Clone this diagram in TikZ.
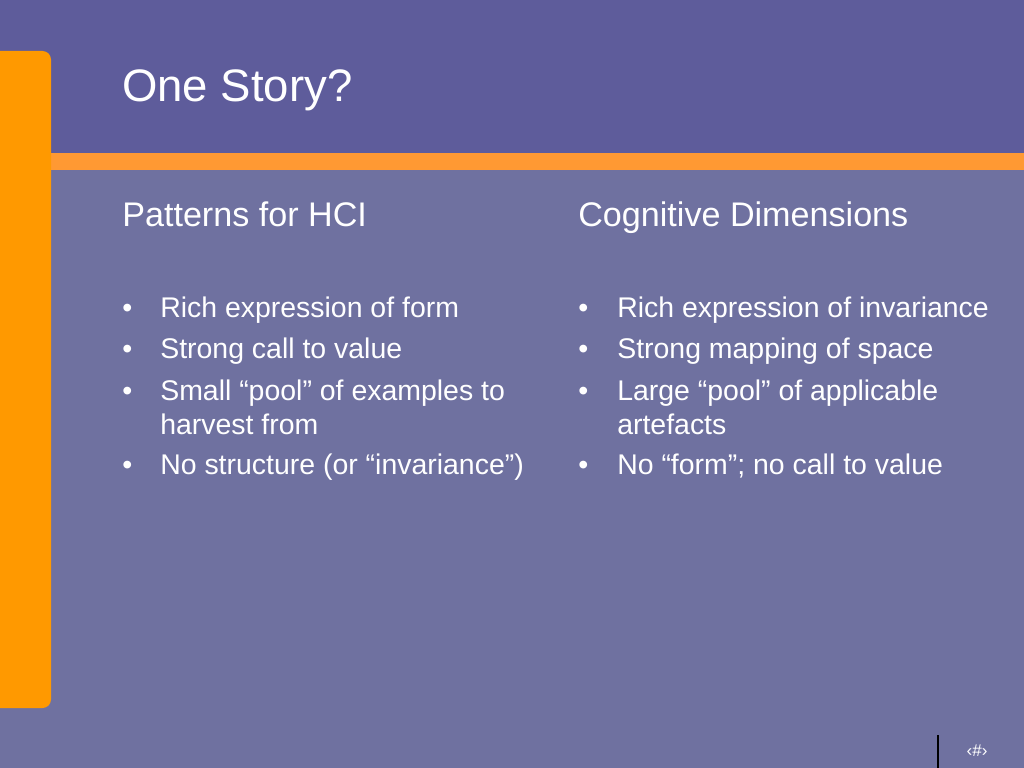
\documentclass[tikz,border=0pt]{standalone}
\usepackage{fontspec}
\setmainfont{Liberation Sans}
\definecolor{bandcolor}{RGB}{94,92,155}
\definecolor{fondcolor}{RGB}{111,113,160}
\definecolor{barcolor}{RGB}{255,153,0}
\definecolor{stripecolor}{RGB}{255,153,51}

\begin{document}
\begin{tikzpicture}[x=0.703125bp, y=-0.703125bp,
    titre/.style={anchor=base west, text=white, inner sep=0pt, font=\fontsize{32bp}{38bp}\selectfont},
    entete/.style={anchor=base west, text=white, inner sep=0pt, font=\fontsize{24bp}{29bp}\selectfont},
    puce/.style={anchor=base west, text=white, inner sep=0pt, font=\fontsize{20bp}{24bp}\selectfont}]

\useasboundingbox (0,0) rectangle (1024,768);
\clip (0,0) rectangle (1024,768);

% =============================================================================
% FOND
% =============================================================================
\fill[fondcolor] (0,0) rectangle (1024,768);
\fill[bandcolor] (0,0) rectangle (1024,153);
\fill[stripecolor] (0,153) rectangle (1024,170);

% Barre laterale
\fill[barcolor, rounded corners=6] (-20,51) rectangle (51,708);

% =============================================================================
% TITRE
% =============================================================================
\node[titre] (titre) at (122,102) {One Story?};

% =============================================================================
% COLONNE GAUCHE
% =============================================================================
\node[entete] (hci) at (122,226) {Patterns for HCI};

\foreach \y/\n in {317/1, 358/2, 400/3, 474/4} {
    \node[puce] (puceA\n) at (122,\y) {\textbullet};
}
\node[puce] (texteA1) at (160,317) {Rich expression of form};
\node[puce] (texteA2) at (160,358) {Strong call to value};
\node[puce] (texteA3) at (160,400) {Small “pool” of examples to};
\node[puce] (texteA3b) at (160,434) {harvest from};
\node[puce] (texteA4) at (160,474) {No structure (or “invariance”)};

% =============================================================================
% COLONNE DROITE
% =============================================================================
\node[entete] (cd) at (578,226) {Cognitive Dimensions};

\foreach \y/\n in {317/1, 358/2, 400/3, 474/4} {
    \node[puce] (puceB\n) at (578,\y) {\textbullet};
}
\node[puce] (texteB1) at (617,317) {Rich expression of invariance};
\node[puce] (texteB2) at (617,358) {Strong mapping of space};
\node[puce] (texteB3) at (617,400) {Large “pool” of applicable};
\node[puce] (texteB3b) at (617,434) {artefacts};
\node[puce] (texteB4) at (617,474) {No “form”; no call to value};

% =============================================================================
% PIED DE PAGE
% =============================================================================
\draw[black, line width=1.5bp] (938,735) -- (938,768);
\node[text=white, font=\fontsize{12bp}{14bp}\selectfont] (numero) at (977,751) {‹\#›};

\end{tikzpicture}
\end{document}
